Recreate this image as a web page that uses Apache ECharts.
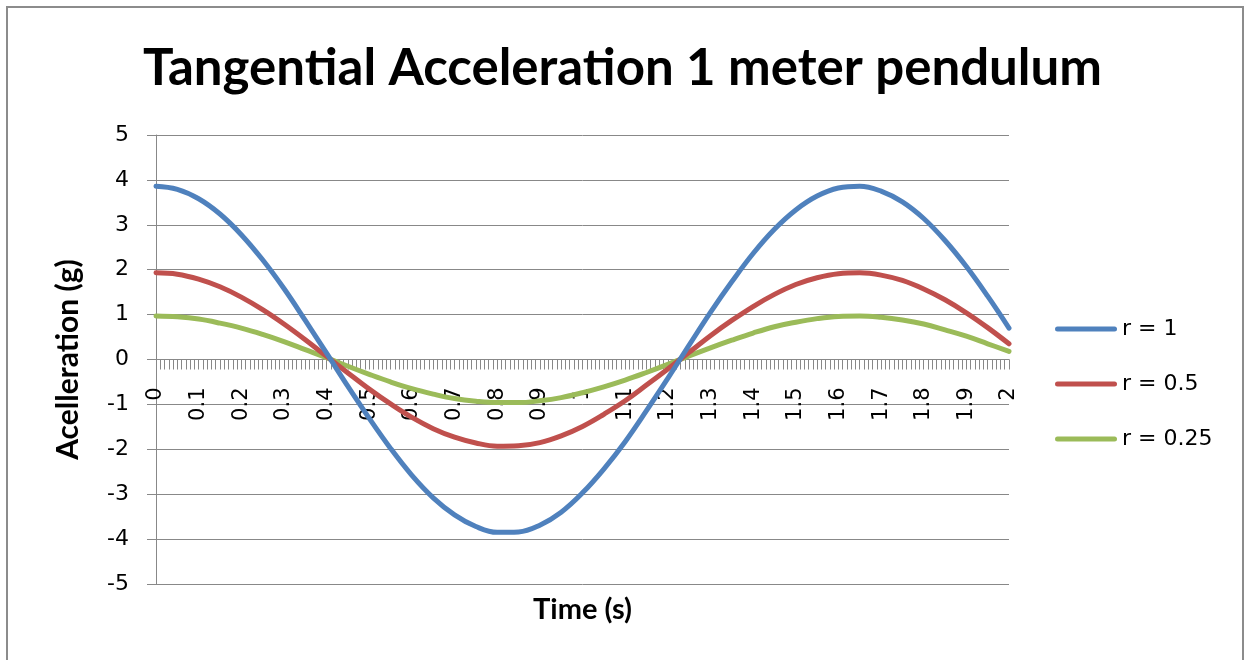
<!DOCTYPE html>
<html>
<head>
<meta charset="utf-8">
<title>Tangential Acceleration 1 meter pendulum</title>
<script src="https://cdn.jsdelivr.net/npm/echarts@6/dist/echarts.min.js"></script>
<style>
  html, body { margin: 0; padding: 0; background: #ffffff; }
  #chart { width: 1245px; height: 660px; }
</style>
</head>
<body>
<div id="chart"></div>
<script>
// Sample times (s)
const times = [
  0, 0.05, 0.1, 0.15, 0.2, 0.25, 0.3, 0.35, 0.4, 0.45,
  0.5, 0.55, 0.6, 0.65, 0.7, 0.75, 0.8, 0.85, 0.9, 0.95,
  1, 1.05, 1.1, 1.15, 1.2, 1.25, 1.3, 1.35, 1.4, 1.45,
  1.5, 1.55, 1.6, 1.65, 1.7, 1.75, 1.8, 1.85, 1.9, 1.95, 2
];

// Tangential acceleration (g) for each amplitude r
const accR1 = [
  3.86, 3.79, 3.58, 3.24, 2.78, 2.22, 1.58, 0.87, 0.14, -0.60,
  -1.31, -1.98, -2.58, -3.08, -3.46, -3.72, -3.85, -3.84, -3.69, -3.40,
  -2.97, -2.44, -1.83, -1.14, -0.42, 0.32, 1.05, 1.73, 2.36, 2.90,
  3.33, 3.64, 3.82, 3.86, 3.75, 3.51, 3.14, 2.65, 2.07, 1.41, 0.70
];
const accR05 = [
  1.93, 1.90, 1.79, 1.62, 1.39, 1.11, 0.79, 0.44, 0.07, -0.30,
  -0.66, -0.99, -1.29, -1.54, -1.73, -1.86, -1.93, -1.92, -1.85, -1.70,
  -1.49, -1.22, -0.92, -0.57, -0.21, 0.16, 0.53, 0.87, 1.18, 1.45,
  1.67, 1.82, 1.91, 1.93, 1.88, 1.76, 1.57, 1.33, 1.04, 0.71, 0.35
];
const accR025 = [
  0.97, 0.95, 0.90, 0.81, 0.70, 0.56, 0.40, 0.22, 0.04, -0.15,
  -0.33, -0.50, -0.65, -0.77, -0.87, -0.93, -0.96, -0.96, -0.92, -0.85,
  -0.74, -0.61, -0.46, -0.29, -0.11, 0.08, 0.26, 0.43, 0.59, 0.73,
  0.83, 0.91, 0.96, 0.97, 0.94, 0.88, 0.79, 0.66, 0.52, 0.35, 0.18
];

const seriesNames = ['r = 1', 'r = 0.5', 'r = 0.25'];
const seriesValues = [accR1, accR05, accR025];
const seriesColors = ['#4F81BD', '#C0504D', '#9BBB59'];

const chartTitle = 'Tangential Acceleration 1 meter pendulum';
const xAxisTitle = 'Time (s)';
const yAxisTitle = 'Acelleration (g)';

const gridGrey = '#888888';
const labelFont = 'DejaVu Sans';
const titleFont = 'Lato';

// Plot box; the time axis sits on the zero line, half way down the plot
const gridTop = 135;
const gridBottom = 76;
const gridHeight = 660 - gridTop - gridBottom;

// Legend swatch: a short bar with rounded ends
const legendSwatch = 'path://M2.5,0 L59.5,0 A2.5,2.5 0 0 1 59.5,5 L2.5,5 A2.5,2.5 0 0 1 2.5,0 Z';

const chart = echarts.init(document.getElementById('chart'), null, { renderer: 'canvas' });

const series = seriesNames.map((name, i) => ({
  name: name,
  type: 'line',
  data: times.map((t, k) => [t, seriesValues[i][k]]),
  symbol: 'none',
  smooth: 0.4,
  clip: false,
  lineStyle: { color: seriesColors[i], width: 5, cap: 'round', join: 'round' },
  itemStyle: { color: seriesColors[i] },
  emphasis: { disabled: true },
  z: 3 + (seriesNames.length - i)
}));

chart.setOption({
  animation: false,
  backgroundColor: '#ffffff',
  title: {
    text: chartTitle,
    left: 'center',
    top: 38,
    textStyle: { fontFamily: titleFont, fontWeight: 'bold', fontSize: 51, color: '#000000' }
  },
  graphic: [{
    type: 'rect',
    shape: { x: 7, y: 7, width: 1236, height: 700 },
    style: { fill: 'none', stroke: '#8c8c8c', lineWidth: 2 },
    silent: true,
    z: 100
  }],
  legend: {
    orient: 'vertical',
    left: 1055,
    top: 318,
    padding: 0,
    itemWidth: 62,
    itemHeight: 20,
    itemGap: 33,
    icon: legendSwatch,
    data: seriesNames,
    textStyle: { fontFamily: labelFont, fontSize: 22, color: '#000000' }
  },
  grid: { left: 156, right: 236, top: gridTop, bottom: gridBottom, containLabel: false, outerBoundsMode: 'none' },
  xAxis: {
    type: 'value',
    min: 0,
    max: 2,
    interval: 0.1,
    position: 'bottom',
    offset: -gridHeight / 2,
    name: xAxisTitle,
    nameLocation: 'middle',
    nameGap: 236,
    nameTextStyle: { fontFamily: titleFont, fontWeight: 'bold', fontSize: 29, color: '#000000' },
    axisLine: { show: true, onZero: false, lineStyle: { color: gridGrey, width: 1 } },
    axisTick: { show: true, inside: false, length: 10, lineStyle: { color: gridGrey, width: 1 } },
    minorTick: { show: true, splitNumber: 10, length: 10, lineStyle: { color: gridGrey, width: 1 } },
    splitLine: { show: false },
    axisLabel: {
      rotate: 90,
      margin: 28,
      padding: [9, 0, 0, 0],
      fontFamily: labelFont,
      fontSize: 21,
      color: '#000000',
      showMinLabel: true,
      showMaxLabel: true,
      hideOverlap: false
    }
  },
  yAxis: {
    type: 'value',
    min: -5,
    max: 5,
    interval: 1,
    name: yAxisTitle,
    nameLocation: 'middle',
    nameRotate: 90,
    nameGap: 73,
    nameTextStyle: { fontFamily: titleFont, fontWeight: 'bold', fontSize: 30, color: '#000000' },
    axisLine: { show: true, lineStyle: { color: gridGrey, width: 1 } },
    axisTick: { show: true, inside: false, length: 9, lineStyle: { color: gridGrey, width: 1 } },
    splitLine: { show: true, lineStyle: { color: gridGrey, width: 1 } },
    axisLabel: { margin: 27, fontFamily: labelFont, fontSize: 22, color: '#000000' }
  },
  series: series
});
</script>
</body>
</html>
